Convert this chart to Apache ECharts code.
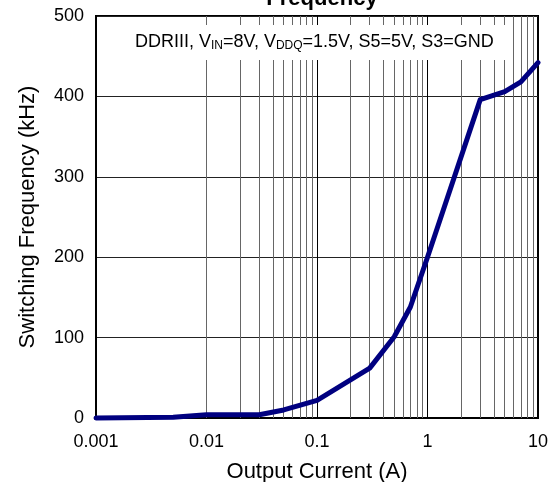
<!DOCTYPE html>
<html>
<head>
<meta charset="utf-8">
<script src="https://cdn.jsdelivr.net/npm/echarts@6/dist/echarts.min.js"></script>
<style>
  html, body { margin: 0; padding: 0; background: #fff; }
  #main { width: 557px; height: 482px; }
</style>
</head>
<body>
<div id="main"></div>
<script>
var chart = echarts.init(document.getElementById('main'));

// output current (A) and switching frequency (kHz)
var currentA = [0.001, 0.005, 0.01, 0.03, 0.05, 0.1, 0.3, 0.5, 0.7, 1, 3, 5, 7, 10];
var freqKHz = [0, 1, 4, 4, 10, 22, 62, 101, 138, 200, 396, 406, 418, 442];
// minor log grid positions
var minorX = [0.002, 0.003, 0.004, 0.005, 0.006, 0.007, 0.008, 0.009,
              0.02, 0.03, 0.04, 0.05, 0.06, 0.07, 0.08, 0.09,
              0.2, 0.3, 0.4, 0.5, 0.6, 0.7, 0.8, 0.9,
              2, 3, 4, 5, 6, 7, 8, 9];
var yTicks = [0, 100, 200, 300, 400, 500];

var font = 'Liberation Sans, Arial, sans-serif';

var points = currentA.map(function (c, i) { return [c, freqKHz[i]]; });

option = {
    backgroundColor: '#fff',
    animation: false,
    title: {
        text: 'Frequency',
        left: 317,
        textAlign: 'center',
        top: -17,
        textStyle: { fontFamily: font, fontSize: 22, fontWeight: 'bold', color: '#000' }
    },
    grid: {
        left: 96,
        right: 19,
        top: 16,
        bottom: 64,
        outerBoundsMode: 'none',
        show: true,
        borderColor: '#000',
        borderWidth: 2
    },
    xAxis: {
        type: 'log',
        logBase: 10,
        min: 0.001,
        max: 10,
        name: 'Output Current (A)',
        nameLocation: 'middle',
        nameGap: 43,
        nameTextStyle: { fontFamily: font, fontSize: 22, color: '#000' },
        axisLine: { show: true, lineStyle: { color: '#000', width: 2 } },
        axisTick: { show: false },
        axisLabel: {
            fontFamily: font, fontSize: 18, color: '#000', margin: 15,
            formatter: function (v) { return String(+v.toPrecision(1)); }
        },
        splitLine: { show: true, lineStyle: { color: '#000', width: 1 } }
    },
    yAxis: {
        type: 'value',
        min: yTicks[0],
        max: yTicks[yTicks.length - 1],
        interval: 100,
        name: 'Switching Frequency (kHz)',
        nameLocation: 'middle',
        nameGap: 57,
        nameTextStyle: { fontFamily: font, fontSize: 22, color: '#000' },
        axisLine: { show: true, lineStyle: { color: '#000', width: 2 } },
        axisTick: { show: false },
        axisLabel: { fontFamily: font, fontSize: 18, color: '#000', margin: 12 },
        splitLine: { show: true, lineStyle: { color: '#222', width: 1 } }
    },
    graphic: [{
        type: 'rect',
        z: 100,
        shape: { x: 98, y: 25, width: 412, height: 35 },
        style: { fill: '#fff' }
    }, {
        type: 'text',
        z: 101,
        x: 135,
        y: 42,
        style: {
            text: 'DDRIII, V{s|IN}=8V, V{s|DDQ}=1.5V, S5=5V, S3=GND',
            fontFamily: font,
            fontSize: 18,
            fill: '#000',
            verticalAlign: 'middle',
            rich: {
                s: { fontFamily: font, fontSize: 12, padding: [8, 0, 0, 0] }
            }
        }
    }],
    series: [{
        name: 'minor grid',
        type: 'line',
        data: [],
        silent: true,
        z: 1,
        markLine: {
            silent: true,
            symbol: 'none',
            label: { show: false },
            lineStyle: { color: '#666', width: 1, type: 'solid' },
            data: minorX.map(function (v) { return { xAxis: v }; })
        }
    }, {
        name: 'Switching Frequency',
        type: 'line',
        data: points,
        showSymbol: false,
        clip: false,
        z: 5,
        lineStyle: { color: '#000080', width: 5, cap: 'round', join: 'round' }
    }]
};

chart.setOption(option);
</script>
</body>
</html>
